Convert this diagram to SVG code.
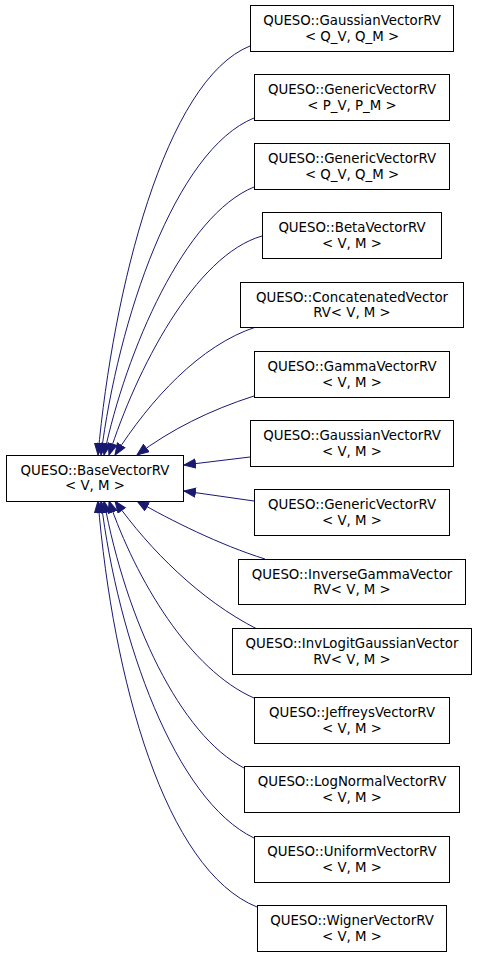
<svg xmlns="http://www.w3.org/2000/svg" width="477" height="957" viewBox="0 0 477 957">
<defs>
<style>
.n rect{fill:#fff;stroke:#000;stroke-width:1}
.n text{font-family:"DejaVu Sans",sans-serif;font-size:13.33px;fill:#000;text-anchor:middle}
.e path{fill:none;stroke:#191970;stroke-width:1;marker-end:url(#ah)}
</style>
<marker id="ah" markerUnits="userSpaceOnUse" markerWidth="13" markerHeight="11" refX="12" refY="5" orient="auto" viewBox="0 0 13 11">
<path d="M0.5,0.5 L12,5 L0.5,9.5 Z" fill="#191970" stroke="#191970" stroke-width="1"/>
</marker>
</defs>
<rect width="477" height="957" fill="#fff"/>
<g class="e">
<path d="M250,46 C165,80 113,290 98,455"/>
<path d="M254,118 C175,150 118,320 101,455"/>
<path d="M254,187 C185,215 126,350 104,455"/>
<path d="M262,236 C195,255 136,370 109,455"/>
<path d="M256,327 C200,345 150,400 115,455"/>
<path d="M254,396 C210,410 170,430 137,455"/>
<path d="M250,457 L184,465"/>
<path d="M254,501 L184,491"/>
<path d="M265,559 C220,545 170,520 137,501"/>
<path d="M257,629 C200,600 150,550 115,501"/>
<path d="M254,698 C190,670 136,580 109,501"/>
<path d="M244,768 C180,735 126,620 104,501"/>
<path d="M254,838 C175,800 118,640 101,501"/>
<path d="M257,907 C165,870 113,680 98,501"/>
</g>
<g id="base" class="n"><rect x="6.5" y="455.5" width="177" height="46"/><text x="95" y="474.5">QUESO::BaseVectorRV</text><text x="95" y="490">&lt; V, M &gt;</text></g>
<g id="n1" class="n"><rect x="250.5" y="5.5" width="203" height="46"/><text x="352" y="25">QUESO::GaussianVectorRV</text><text x="352" y="40.5">&lt; Q_V, Q_M &gt;</text></g>
<g id="n2" class="n"><rect x="254.5" y="74.5" width="195" height="46"/><text x="352" y="94">QUESO::GenericVectorRV</text><text x="352" y="109.5">&lt; P_V, P_M &gt;</text></g>
<g id="n3" class="n"><rect x="254.5" y="143.5" width="195" height="46"/><text x="352" y="163">QUESO::GenericVectorRV</text><text x="352" y="178.5">&lt; Q_V, Q_M &gt;</text></g>
<g id="n4" class="n"><rect x="262.5" y="212.5" width="179" height="46"/><text x="352" y="232">QUESO::BetaVectorRV</text><text x="352" y="247.5">&lt; V, M &gt;</text></g>
<g id="n5" class="n"><rect x="240.5" y="282.5" width="223" height="45"/><text x="352" y="301.5">QUESO::ConcatenatedVector</text><text x="352" y="317">RV&lt; V, M &gt;</text></g>
<g id="n6" class="n"><rect x="254.5" y="351.5" width="195" height="46"/><text x="352" y="371">QUESO::GammaVectorRV</text><text x="352" y="386.5">&lt; V, M &gt;</text></g>
<g id="n7" class="n"><rect x="250.5" y="420.5" width="203" height="46"/><text x="352" y="440">QUESO::GaussianVectorRV</text><text x="352" y="455.5">&lt; V, M &gt;</text></g>
<g id="n8" class="n"><rect x="254.5" y="489.5" width="195" height="46"/><text x="352" y="509">QUESO::GenericVectorRV</text><text x="352" y="524.5">&lt; V, M &gt;</text></g>
<g id="n9" class="n"><rect x="238.5" y="559.5" width="227" height="45"/><text x="352" y="578.5">QUESO::InverseGammaVector</text><text x="352" y="594">RV&lt; V, M &gt;</text></g>
<g id="n10" class="n"><rect x="232.5" y="628.5" width="239" height="46"/><text x="352" y="648">QUESO::InvLogitGaussianVector</text><text x="352" y="663.5">RV&lt; V, M &gt;</text></g>
<g id="n11" class="n"><rect x="254.5" y="697.5" width="195" height="46"/><text x="352" y="717">QUESO::JeffreysVectorRV</text><text x="352" y="732.5">&lt; V, M &gt;</text></g>
<g id="n12" class="n"><rect x="244.5" y="766.5" width="215" height="46"/><text x="352" y="786">QUESO::LogNormalVectorRV</text><text x="352" y="801.5">&lt; V, M &gt;</text></g>
<g id="n13" class="n"><rect x="254.5" y="836.5" width="195" height="46"/><text x="352" y="856">QUESO::UniformVectorRV</text><text x="352" y="871.5">&lt; V, M &gt;</text></g>
<g id="n14" class="n"><rect x="257.5" y="905.5" width="189" height="46"/><text x="352" y="925">QUESO::WignerVectorRV</text><text x="352" y="940.5">&lt; V, M &gt;</text></g>
</svg>
